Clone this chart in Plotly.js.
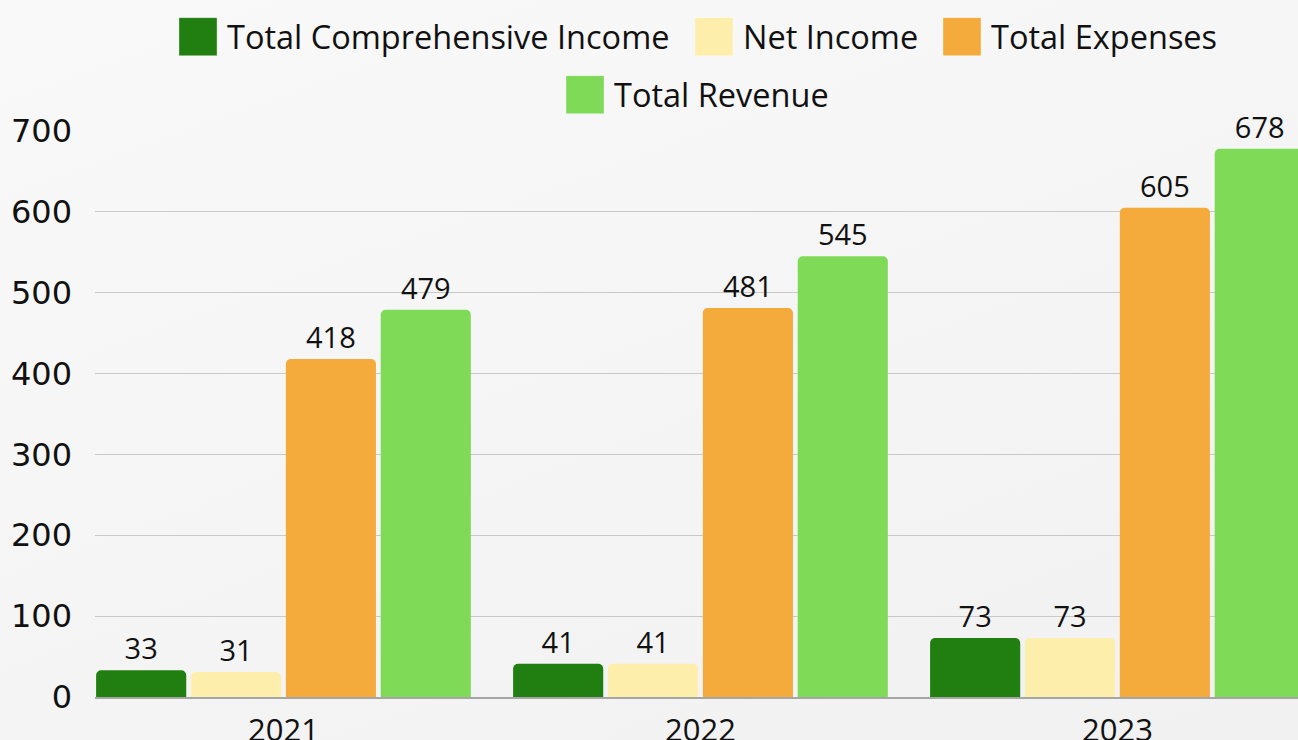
<!DOCTYPE html>
<html>
<head>
<meta charset="utf-8">
<script src="https://cdn.plot.ly/plotly-3.0.1.min.js"></script>
<style>
  html, body { margin: 0; padding: 0; }
  body {
    width: 1298px; height: 740px; overflow: hidden;
    background: linear-gradient(160deg, #f9f9f9 0%, #f5f5f5 50%, #f1f1f1 100%);
  }
  #chart { width: 1298px; height: 740px; }
</style>
</head>
<body>
<div id="chart"></div>
<script>
const years = ['2021', '2022', '2023'];
const totalComprehensiveIncome = [33, 41, 73];
const netIncome = [31, 41, 73];
const totalExpenses = [418, 481, 605];
const totalRevenue = [479, 545, 678];

const seriesNames = ['Total Comprehensive Income', 'Net Income', 'Total Expenses', 'Total Revenue'];
const seriesValues = [totalComprehensiveIncome, netIncome, totalExpenses, totalRevenue];
const seriesColors = ['#217e10', '#fdeeab', '#f5ab3b', '#7fda58'];
const seriesLegend = ['legend', 'legend2', 'legend3', 'legend4'];

const FONT = '"Open Sans", "Liberation Sans", sans-serif';
const TICKFONT = '"DejaVu Sans", "Open Sans", sans-serif';

const traces = seriesNames.map((name, i) => ({
  type: 'bar',
  name: name,
  x: years,
  y: seriesValues[i],
  legend: seriesLegend[i],
  marker: { color: seriesColors[i], line: { width: 0 } },
  text: seriesValues[i].map(String),
  textposition: 'outside',
  textfont: { family: FONT, size: 29, color: '#111111' },
  constraintext: 'none',
  cliponaxis: false,
  hoverinfo: 'skip'
}));

function legendAt(px, py) {
  return {
    orientation: 'h',
    xref: 'container', yref: 'container',
    x: px / 1298, xanchor: 'left',
    y: 1 - py / 740, yanchor: 'middle',
    bgcolor: 'rgba(0,0,0,0)',
    borderwidth: 0,
    font: { family: FONT, size: 32.5, color: '#111111' },
    itemwidth: 46
  };
}

const layout = {
  width: 1298,
  height: 740,
  paper_bgcolor: 'rgba(0,0,0,0)',
  plot_bgcolor: 'rgba(0,0,0,0)',
  font: { family: FONT, size: 30, color: '#111111' },
  margin: { l: 95, r: 0, t: 130.5, b: 42.7, pad: 0 },
  barmode: 'group',
  bargap: 0.09,
  bargroupgap: 0.05,
  barcornerradius: 5,
  showlegend: true,
  legend: legendAt(171, 37),
  legend2: legendAt(687, 37),
  legend3: legendAt(935, 37),
  legend4: legendAt(558, 95),
  xaxis: {
    type: 'category',
    range: [-0.452, 2.433],
    showgrid: false,
    showline: true,
    linecolor: '#a6a6a6',
    linewidth: 1.5,
    ticks: '',
    tickfont: { family: FONT, size: 31, color: '#111111' },
    ticklabelstandoff: 5,
    zeroline: false,
    fixedrange: true
  },
  yaxis: {
    range: [0, 700],
    tickvals: [0, 100, 200, 300, 400, 500, 600, 700],
    showgrid: true,
    gridcolor: '#c9c9c9',
    gridwidth: 1,
    zeroline: false,
    showline: false,
    ticks: '',
    tickfont: { family: TICKFONT, size: 32, color: '#111111' },
    ticklabelstandoff: 22,
    fixedrange: true
  }
};

Plotly.newPlot('chart', traces, layout, { staticPlot: true, displayModeBar: false }).then(() => {
  document.querySelectorAll('.legendpoints path').forEach(p => {
    p.setAttribute('d', 'M18,19H-20V-19H18Z');
    p.style.stroke = 'rgba(255,255,255,0.35)';
    p.style.strokeWidth = '1px';
  });
});
</script>
</body>
</html>
